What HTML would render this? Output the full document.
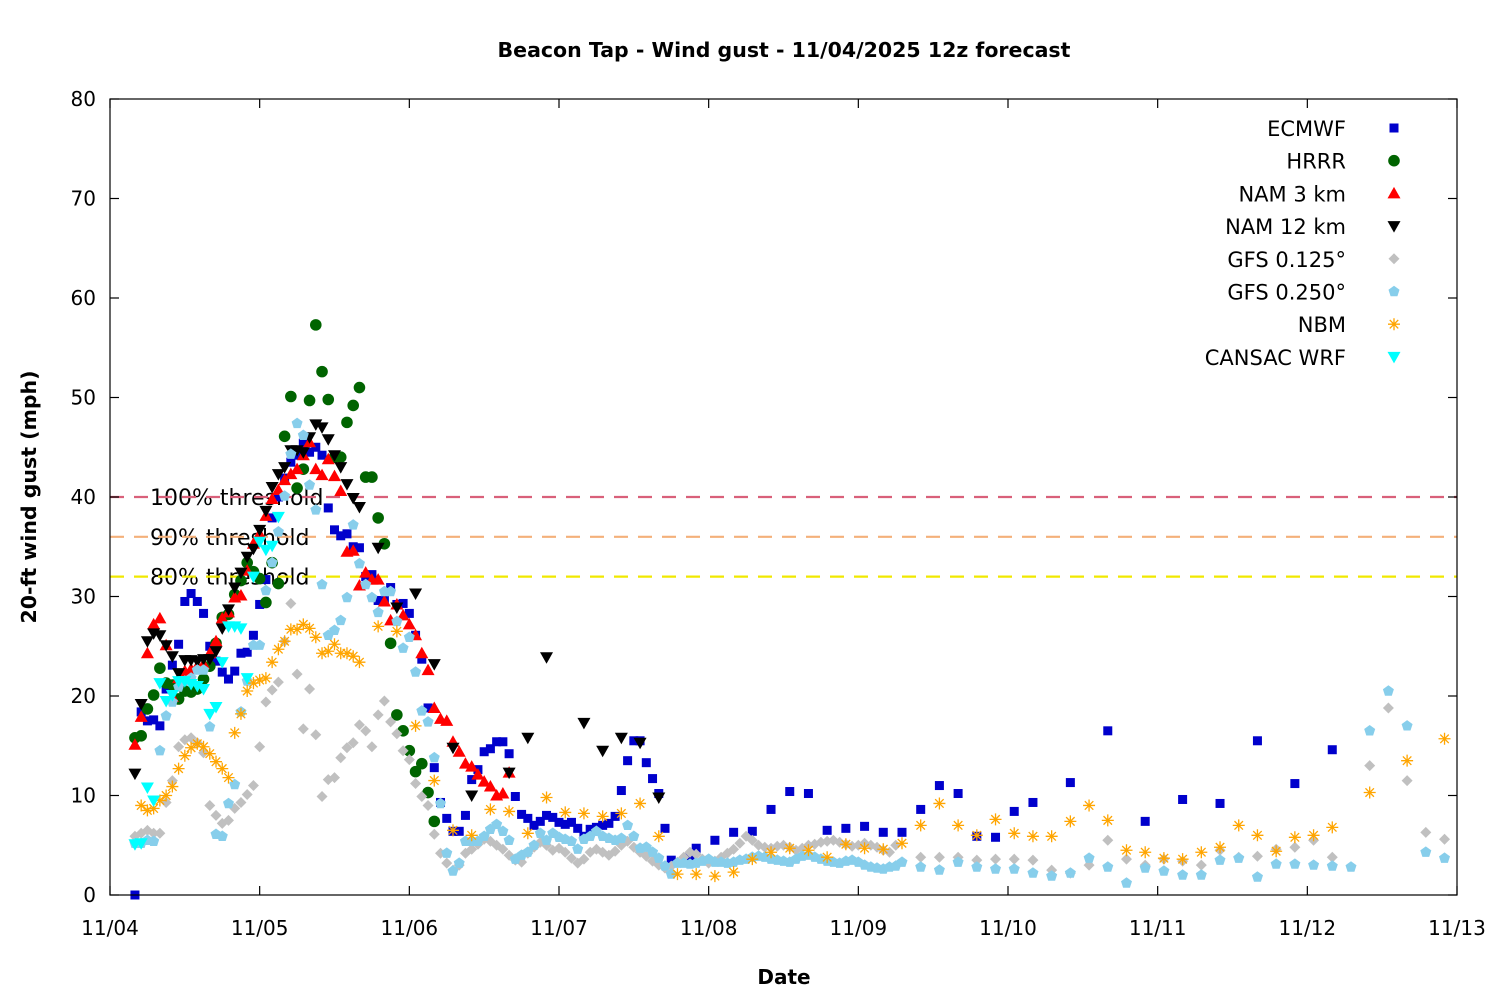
<!DOCTYPE html>
<html><head><meta charset="utf-8"><title>Beacon Tap - Wind gust</title>
<style>
html,body{margin:0;padding:0;background:#fff;}
svg{display:block;font-family:"DejaVu Sans","Liberation Sans",sans-serif;}
</style></head>
<body>
<svg id="chart" width="1500" height="1000" viewBox="0 0 1500 1000" xmlns="http://www.w3.org/2000/svg">
<rect width="1500" height="1000" fill="#fff"/>
<text x="784" y="57" text-anchor="middle" font-size="20.5" font-weight="bold">Beacon Tap - Wind gust - 11/04/2025 12z forecast</text>
<text x="784" y="984" text-anchor="middle" font-size="20" font-weight="bold">Date</text>
<text transform="translate(36,497) rotate(-90)" text-anchor="middle" font-size="20.5" font-weight="bold">20-ft wind gust (mph)</text>
<g id="grid"></g>
<g id="thresholds"></g>
<g id="marks"></g>
<rect x="110" y="99" width="1347" height="796" fill="none" stroke="#000" stroke-width="1.2"/>
<g id="axes"></g>
<g id="legend"></g>
</svg>
<script>
// ---- data (hours since 11/04 00z, values in mph) ----
const xTickLabels = ["11/04","11/05","11/06","11/07","11/08","11/09","11/10","11/11","11/12","11/13"];
const yTickValues = [0,10,20,30,40,50,60,70,80];
const thresholdValues = [40,36,32];
const thresholdLabels = ["100% threshold","90% threshold","80% threshold"];
const thresholdColors = ["#d9607a","#f4b07a","#f0e800"];

const ecmwfStart = 4;
const ecmwfHourly = [0,18.4,17.5,17.6,17,20.7,23.1,25.2,29.5,30.3,29.5,28.3,25,23.5,22.4,21.7,22.5,24.3,24.4,26.1,29.2,31.7,37.9,40.0,41.9,43.5,44.2,45.4,44.5,45.0,44.2,38.9,36.7,36.1,36.3,35,34.9,32,32.2,29.6,29.6,30.9,29.2,29.3,28.3,26.1,23.7,18.8,12.8,9.3,7.7,6.4,6.4,8.0,11.6,12.6,14.4,14.7,15.4,15.4,14.2,9.9,8.1,7.7,7.0,7.4,8.0,7.8,7.3,7.1,7.3,6.7,5.9,6.6,6.8,7.0,7.2,7.9,10.5,13.5,15.5,15.5,13.3,11.7,10.2,6.7,3.5];
const ecmwfLateHours = [93,94,97,100,103,106,109,112,115,118,121,124,127,130,133,136,139,142,145,148,154,160,166,172,178,184,190,196];
const ecmwfLateVals = [3.8,4.7,5.5,6.3,6.4,8.6,10.4,10.2,6.5,6.7,6.9,6.3,6.3,8.6,11.0,10.2,5.9,5.8,8.4,9.3,11.3,16.5,7.4,9.6,9.2,15.5,11.2,14.6];

const hrrrStart = 4;
const hrrrHourly = [15.8,16,18.7,20.1,22.8,21.3,21.1,19.7,20.5,20.4,20.7,21.7,23,25.3,27.9,28.2,30.2,31.6,33.4,32.5,31.8,29.4,33.4,31.3,46.1,50.1,40.9,42.8,49.7,57.3,52.6,49.8,44,44,47.5,49.2,51,42,42,37.9,35.3,25.3,18.1,16.5,14.5,12.4,13.2,10.3,7.4];

const nam3Start = 4;
const nam3Hourly = [15.1,17.9,24.3,27.2,27.8,25.1,19.9,21.8,22.5,22.7,23.0,23.2,24.3,25.5,27.8,28.4,29.9,30.1,32.6,35.3,36.3,38.1,39.8,40.7,41.7,42.3,42.8,44.2,45.5,42.8,42.2,43.8,42.1,40.6,34.5,34.6,31.1,32.4,31.7,31.7,29.5,27.6,29.2,28.1,27.2,26.1,24.3,22.6,18.8,17.7,17.5,15.4,14.4,13.2,12.9,12.1,11.4,10.9,10.0,10.2,12.3];

const nam12Hours = [4,5,6,7,8,9,10,11,12,13,14,15,16,17,18,19,20,21,22,23,24,25,26,27,28,29,30,31,32,33,34,35,36,37,38,39,40,43,46,49,52,55,58,64,67,70,76,79,82,85,88];
const nam12Vals = [12.2,19.2,25.5,26.3,26.1,25.1,24,22.3,23.6,23.6,23.5,23.7,23.7,24.5,26.8,28.7,30.9,32.4,34,34.8,36.7,38.6,41,42.3,43,44.7,44.7,44.5,46,47.3,47,45.8,44.2,43,41.3,39.9,39.0,34.9,28.9,30.3,23.2,14.8,10.0,12.3,15.8,23.9,17.3,14.5,15.8,15.3,9.8];

const gfs125Start = 4;
const gfs125Hourly = [5.9,6.2,6.5,6.2,6.2,9.3,11.5,14.9,15.6,15.8,15.3,14.3,9,8.0,7.2,7.5,8.7,9.3,10.1,11,14.9,19.4,20.6,21.4,25.5,29.3,22.2,16.7,20.7,16.1,9.9,11.6,11.8,13.8,14.8,15.3,17.1,16.5,14.9,18.1,19.5,17.4,16.2,14.5,13.6,11.2,9.9,9,6.1,
4.2,3.2,2.5,3.0,4.2,4.6,5.1,5.6,5.4,5.0,4.6,4.0,3.5,3.3,4.2,4.8,5.3,5.0,4.5,4.7,4.3,3.7,3.2,3.6,4.3,4.6,4.3,4.0,4.4,5.0,5.4,4.8,4.3,3.9,3.4,3.0,2.7,2.9,3.3,3.8,4.3,4.1,3.6,3.2,3.4,3.8,4.2,4.6,5.2,5.9,5.5,5.0,4.8,4.7,4.9,5.0,4.8,4.5,4.7,5.0,5.1,5.3,5.4,5.5,5.3,5.1,4.9,5.0,5.2,5.0,4.8,4.5,4.3,5.0];
const gfs125LateHours = [130,133,136,139,142,145,148,151,154,157,160,163,166,169,172,175,178,181,184,187,190,193,196,202,205,208,211,214];
const gfs125LateVals = [3.8,3.8,3.8,3.5,3.6,3.6,3.5,2.5,2.2,3.0,5.5,3.6,3.0,3.6,3.4,3.0,4.5,3.8,3.9,4.6,4.8,5.5,3.8,13,18.8,11.5,6.3,5.6];

const gfs250Start = 4;
const gfs250Hourly = [5.2,5.2,5.5,5.4,14.5,18,19.4,20.9,21.5,21.8,22.6,22.6,16.9,6.1,5.9,9.2,11.1,18.4,21.5,25.1,25.1,30.6,33.4,36.5,40.1,44.3,47.4,46.2,41.2,38.7,31.2,26.1,26.6,27.6,29.9,37.2,33.3,31.2,29.9,28.4,30.5,30.5,27.5,24.8,25.9,22.4,18.5,17.4,13.8,9.2,
4.2,2.4,3.2,5.4,5.4,5.4,5.9,6.6,7.1,6.4,5.5,3.6,4.0,4.3,5.0,6.2,5.5,6.2,5.8,5.6,5.4,4.6,5.6,5.9,6.4,5.9,5.7,5.5,5.7,7.0,5.9,4.7,4.8,4.3,3.7,2.9,2.1,3.2,3.2,3.1,3.2,3.4,3.6,
3.3,3.3,3.2,3.3,3.5,3.6,3.8,3.9,3.8,3.6,3.5,3.4,3.3,3.6,3.9,4.0,3.8,3.6,3.4,3.3,3.2,3.4,3.5,3.3,3.0,2.8,2.7,2.6,2.8,2.9];
const gfs250LateHours = [127,130,133,136,139,142,145,148,151,154,157,160,163,166,169,172,175,178,181,184,187,190,193,196,199,202,205,208,211,214];
const gfs250LateVals = [3.3,2.8,2.5,3.3,2.8,2.6,2.6,2.2,1.9,2.2,3.7,2.8,1.2,2.7,2.4,2.0,2.0,3.5,3.7,1.8,3.1,3.1,3.0,2.9,2.8,16.5,20.5,17.0,4.3,3.7];

const nbmStart = 5;
const nbmHourly = [9,8.5,8.7,9.5,10,10.9,12.7,14,14.8,15.2,14.9,14.2,13.4,12.7,11.8,16.3,18.2,20.5,21.3,21.6,21.8,23.4,24.7,25.5,26.7,26.7,27.2,26.8,25.9,24.3,24.5,25.2,24.3,24.3,24,23.4];
const nbmLateHours = [43,46,49,52,55,58,61,64,67,70,73,76,79,82,85,88,91,94,97,100,103,106,109,112,115,118,121,124,127,130,133,136,139,142,145,148,151,154,157,160,163,166,169,172,175,178,181,184,187,190,193,196,202,208,214];
const nbmLateVals = [27,26.5,17,11.5,6.5,6,8.6,8.4,6.2,9.8,8.3,8.2,7.9,8.2,9.2,5.9,2.1,2.1,1.9,2.3,3.6,4.3,4.7,4.5,3.8,5.1,4.7,4.6,5.2,7,9.2,7,6,7.6,6.2,5.9,5.9,7.4,9,7.5,4.5,4.3,3.7,3.6,4.3,4.8,7,6,4.4,5.8,6,6.8,10.3,13.5,15.7];

const cansacStart = 4;
const cansacHourly = [5.1,5.2,10.8,9.5,21.3,19.5,20.1,21.5,21.5,21.2,21,20.7,18.2,18.9,23.4,27,27,26.8,21.8,32,35.5,34.7,35.1,38];

const seriesNames = ["ECMWF","HRRR","NAM 3 km","NAM 12 km","GFS 0.125°","GFS 0.250°","NBM","CANSAC WRF"];
const seriesColors = ["#0000cc","#006400","#ff0000","#000000","#c0c0c0","#87ceeb","#ffa500","#00ffff"];
const seriesShapes = ["square","circle","up","down","diamond","pentagon","star","down"];

// ---- axes ----
const X0 = 110, X1 = 1457, Y0 = 895, Y1 = 99;
const HMAX = 216, VMAX = 80;
function xScale(h){ return X0 + (X1 - X0) * h / HMAX; }
function yScale(v){ return Y0 - (Y0 - Y1) * v / VMAX; }
const NS = "http://www.w3.org/2000/svg";
function mk(tag, attrs, parent){
  const e = document.createElementNS(NS, tag);
  for (const k in attrs) e.setAttribute(k, attrs[k]);
  parent.appendChild(e);
  return e;
}
function hourlyHours(start, arr){ return arr.map((_, i) => start + i); }

const axes = document.getElementById("axes");
yTickValues.forEach(v => {
  const y = yScale(v);
  const t = mk("line", {x1:X0, x2:X0+9, y1:y, y2:y, stroke:"#000", "stroke-width":1.2}, axes);
  
  
  const t2 = mk("line", {x1:X1-9, x2:X1, y1:y, y2:y, stroke:"#000", "stroke-width":1.2}, axes);
  
  
  const lb = mk("text", {x:X0-14, y:y+7, "text-anchor":"end", "font-size":20}, axes);
  lb.textContent = v;
  
  
});
xTickLabels.forEach((s, i) => {
  const x = xScale(i * 24);
  const t = mk("line", {x1:x, x2:x, y1:Y0, y2:Y0-9, stroke:"#000", "stroke-width":1.2}, axes);
  
  
  const t2 = mk("line", {x1:x, x2:x, y1:Y1, y2:Y1+9, stroke:"#000", "stroke-width":1.2}, axes);
  
  
  const lb = mk("text", {x:x, y:935, "text-anchor":"middle", "font-size":20}, axes);
  lb.textContent = s;
  
  
});

// ---- thresholds ----
const th = document.getElementById("thresholds");
thresholdValues.forEach((v, i) => {
  const y = yScale(v);
  const lb = mk("text", {x:150, y:y+8, "font-size":22}, th);
  lb.textContent = thresholdLabels[i];
  
  
  const ln = mk("line", {x1:X0, x2:X1, y1:y, y2:y, stroke:thresholdColors[i], "stroke-width":2.2, "stroke-dasharray":"14 10"}, th);
  
  
});

// ---- markers ----
function marker(shape, cx, cy, color, parent){
  let e;
  if (shape === "square") e = mk("rect", {x:cx-4.5, y:cy-4.5, width:9, height:9, fill:color}, parent);
  else if (shape === "circle") e = mk("circle", {cx:cx, cy:cy, r:5.8, fill:color}, parent);
  else if (shape === "up") e = mk("polygon", {points:`${cx},${cy-6.5} ${cx+6.5},${cy+5} ${cx-6.5},${cy+5}`, fill:color}, parent);
  else if (shape === "down") e = mk("polygon", {points:`${cx-6.5},${cy-5} ${cx+6.5},${cy-5} ${cx},${cy+6.5}`, fill:color}, parent);
  else if (shape === "diamond") e = mk("polygon", {points:`${cx},${cy-5.5} ${cx+5.5},${cy} ${cx},${cy+5.5} ${cx-5.5},${cy}`, fill:color}, parent);
  else if (shape === "pentagon") {
    const p = [];
    for (let k = 0; k < 5; k++){ const a = -Math.PI/2 + k*2*Math.PI/5; p.push((cx+5.8*Math.cos(a)).toFixed(1)+","+(cy+5.8*Math.sin(a)).toFixed(1)); }
    e = mk("polygon", {points:p.join(" "), fill:color}, parent);
  } else {
    let d = "";
    for (let k = 0; k < 4; k++){ const a = k*Math.PI/4; d += `M${cx-6*Math.cos(a)},${cy-6*Math.sin(a)}L${cx+6*Math.cos(a)},${cy+6*Math.sin(a)}`; }
    e = mk("path", {d:d, stroke:color, "stroke-width":1.3, fill:"none"}, parent);
  }
  return e;
}
const seriesData = [
  [hourlyHours(ecmwfStart, ecmwfHourly).concat(ecmwfLateHours), ecmwfHourly.concat(ecmwfLateVals)],
  [hourlyHours(hrrrStart, hrrrHourly), hrrrHourly],
  [hourlyHours(nam3Start, nam3Hourly), nam3Hourly],
  [nam12Hours, nam12Vals],
  [hourlyHours(gfs125Start, gfs125Hourly).concat(gfs125LateHours), gfs125Hourly.concat(gfs125LateVals)],
  [hourlyHours(gfs250Start, gfs250Hourly).concat(gfs250LateHours), gfs250Hourly.concat(gfs250LateVals)],
  [hourlyHours(nbmStart, nbmHourly).concat(nbmLateHours), nbmHourly.concat(nbmLateVals)],
  [hourlyHours(cansacStart, cansacHourly), cansacHourly]
];
const marks = document.getElementById("marks");
seriesData.forEach((sd, si) => {
  const g = mk("g", {}, marks);
  
  
  sd[0].forEach((h, j) => {
    const m = marker(seriesShapes[si], xScale(h), yScale(sd[1][j]), seriesColors[si], g);
    
    
  });
});

// ---- legend ----
const lg = document.getElementById("legend");
seriesNames.forEach((n, i) => {
  const y = 128 + i * 32.7;
  const t = mk("text", {x:1346, y:y+8, "text-anchor":"end", "font-size":21}, lg);
  t.textContent = n;
  
  
  const m = marker(seriesShapes[i], 1394, y, seriesColors[i], lg);
  
  
});
</script>
</body></html>
